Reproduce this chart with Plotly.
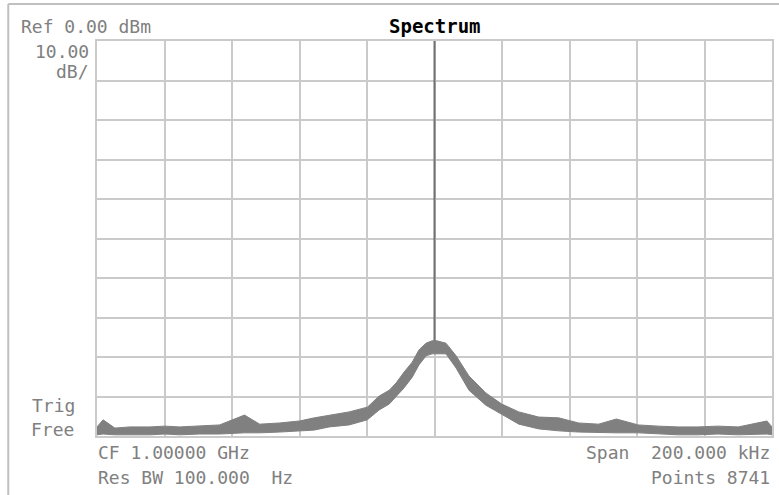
import plotly.graph_objects as go

# ---- data (offset from CF in kHz, level in dBm) ----
freq_khz = [-100.0, -98.2, -94.7, -90.3, -84.3, -79.9, -75.5, -69.6, -63.7, -56.3,
            -51.8, -45.9, -40.0, -35.6, -31.2, -25.3, -19.9, -16.4, -13.4, -11.4,
            -9.0, -6.6, -4.6, -2.5, -0.7, 0.7, 3.4, 6.4, 10.2, 15.2,
            19.9, 25.0, 30.9, 36.8, 42.7, 48.6, 53.9, 60.4, 66.3, 72.2,
            78.1, 84.0, 90.0, 98.5, 100.0]
trace_max_dbm = [-97.7, -95.9, -98.0, -97.7, -97.7, -97.5, -97.7, -97.5, -97.2, -94.7,
                 -97.0, -96.7, -96.2, -95.4, -94.7, -93.9, -92.7, -89.9, -88.4, -86.6,
                 -83.8, -81.3, -78.2, -76.5, -75.9, -75.9, -76.5, -79.7, -84.8, -89.1,
                 -91.9, -93.9, -95.2, -95.4, -96.7, -97.0, -95.7, -97.2, -97.5, -97.7,
                 -97.7, -97.5, -97.7, -96.2, -97.7]
trace_min_dbm = [-99.7, -99.5, -99.7, -99.7, -99.7, -99.5, -99.7, -99.5, -99.5, -99.2,
                 -99.2, -99.0, -98.7, -98.5, -97.7, -97.2, -95.9, -93.4, -91.9, -90.1,
                 -87.8, -85.1, -82.0, -79.7, -79.2, -79.2, -79.2, -82.8, -88.4, -92.2,
                 -94.4, -97.0, -98.2, -98.7, -99.0, -99.2, -99.2, -99.2, -99.5, -99.7,
                 -99.7, -99.5, -99.7, -99.5, -99.7]
carrier_khz = 0.0
carrier_dbm = 0.0
ref_level_dbm = 0.0
db_per_div = 10.0
n_div = 10
span_khz = 200.0

TRACE = "#808080"
GRID = "#cacaca"
TXT = "#808080"
MONO = "DejaVu Sans Mono"

bottom_dbm = ref_level_dbm - db_per_div * n_div

fig = go.Figure()
fig.add_trace(go.Scatter(x=freq_khz, y=trace_min_dbm, mode="lines",
                         line=dict(color=TRACE, width=1), hoverinfo="skip",
                         showlegend=False))
fig.add_trace(go.Scatter(x=freq_khz, y=trace_max_dbm, mode="lines",
                         line=dict(color=TRACE, width=1), fill="tonexty",
                         fillcolor=TRACE, showlegend=False))
fig.add_trace(go.Scatter(x=[carrier_khz, carrier_khz],
                         y=[max(trace_max_dbm), carrier_dbm], mode="lines",
                         line=dict(color="#707070", width=2), showlegend=False))

W, H = 779, 495
L, R, T, B = 97, 774, 41, 436


def px(x):
    return (x - L) / (R - L)


def py(y):
    return (B - y) / (B - T)


def note(text, x, y, xanchor="left", size=18, color=TXT, family=MONO):
    fig.add_annotation(text=text, x=px(x), y=py(y), xref="paper", yref="paper",
                       xanchor=xanchor, yanchor="middle", showarrow=False,
                       font=dict(family=family, size=size, color=color))


note("Ref 0.00 dBm", 19, 26)
note("10.00", 91, 51, "right")
note("dB/", 91, 72, "right")
note("Trig", 30, 405)
note("Free", 29, 429)
note("CF 1.00000 GHz", 96, 452)
note("Res BW 100.000  Hz", 96, 477)
note("Span  200.000 kHz", 774, 452, "right")
note("Points 8741", 774, 477, "right")
note("<b>Spectrum</b>", 436, 26, "center", size=19, color="#000000",
     family="DejaVu Sans Mono")

# outer frame lines (left and top)
fig.add_shape(type="line", xref="paper", yref="paper", x0=px(8), x1=px(8),
              y0=py(500), y1=py(4), line=dict(color="#c0c0c0", width=2))
fig.add_shape(type="line", xref="paper", yref="paper", x0=px(8), x1=px(785),
              y0=py(4), y1=py(4), line=dict(color="#c0c0c0", width=2))

fig.update_xaxes(range=[-span_khz / 2, span_khz / 2], dtick=span_khz / n_div,
                 tick0=-span_khz / 2, showgrid=True, gridcolor=GRID, gridwidth=2,
                 showticklabels=False, ticks="", zeroline=False,
                 showline=True, linecolor=GRID, linewidth=2, mirror=True)
fig.update_yaxes(range=[bottom_dbm, ref_level_dbm], dtick=db_per_div,
                 tick0=bottom_dbm, showgrid=True, gridcolor=GRID, gridwidth=2,
                 showticklabels=False, ticks="", zeroline=False,
                 showline=True, linecolor=GRID, linewidth=2, mirror=True)

fig.update_layout(width=W, height=H, autosize=False,
                  margin=dict(l=L, r=W - R, t=T, b=H - B, pad=0),
                  paper_bgcolor="white", plot_bgcolor="white",
                  showlegend=False)

fig.write_html("out.html", config={"displayModeBar": False},
               post_script="document.body.style.margin='0';"
                           "document.body.style.overflow='hidden';")
